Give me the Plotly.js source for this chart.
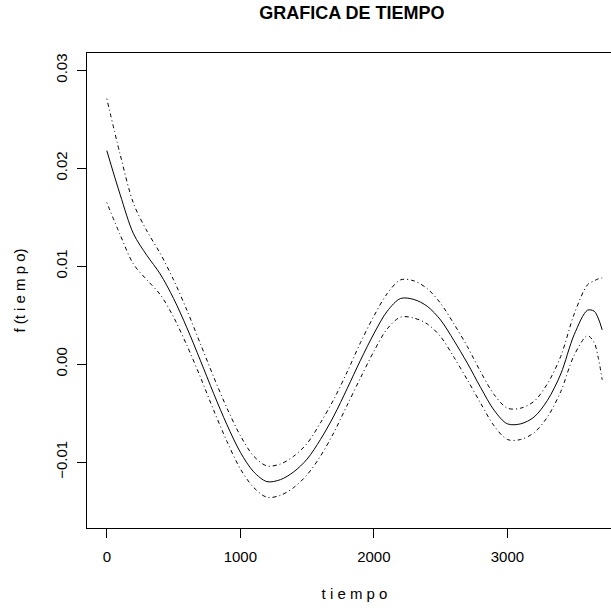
<!DOCTYPE html>
<html>
<head>
<meta charset="utf-8">
<script src="https://cdn.plot.ly/plotly-3.0.1.min.js"></script>
<style>
html,body{margin:0;padding:0;overflow:hidden;background:#fff;width:611px;height:608px;}
#chart{width:624px;height:608px;}
</style>
</head>
<body>
<div id="chart"></div>
<script>
// tiempo values
const tiempo = [0,100,200,300,400,500,600,700,800,900,1000,1100,1200,1300,1400,1500,1600,1700,1800,1900,2000,2100,2200,2300,2400,2500,2600,2700,2800,2900,3000,3100,3200,3300,3400,3500,3600,3650,3680,3710];
// fitted smooth f(tiempo)
const fit = [0.0218,0.0173,0.0133,0.0111,0.0092,0.0067,0.0037,0.0004,-0.0030,-0.0062,-0.0090,-0.0110,-0.0120,-0.0118,-0.0110,-0.0097,-0.0077,-0.0053,-0.0025,0.0004,0.0031,0.0054,0.0067,0.0066,0.0059,0.0045,0.0024,0.0001,-0.0024,-0.0047,-0.0061,-0.0061,-0.0054,-0.0037,-0.0010,0.0030,0.0055,0.0054,0.0047,0.0035];
// upper confidence band
const upper = [0.0271,0.0214,0.0164,0.0136,0.0113,0.0086,0.0055,0.0021,-0.0013,-0.0045,-0.0073,-0.0094,-0.0104,-0.0102,-0.0094,-0.0081,-0.0060,-0.0036,-0.0008,0.0022,0.0049,0.0072,0.0086,0.0085,0.0077,0.0062,0.0041,0.0018,-0.0008,-0.0031,-0.0045,-0.0045,-0.0038,-0.0020,0.0008,0.0051,0.0081,0.0085,0.0087,0.0088];
// lower confidence band
const lower = [0.0165,0.0132,0.0102,0.0086,0.0071,0.0048,0.0019,-0.0013,-0.0047,-0.0079,-0.0107,-0.0126,-0.0136,-0.0134,-0.0126,-0.0113,-0.0094,-0.0070,-0.0042,-0.0014,0.0013,0.0036,0.0048,0.0047,0.0041,0.0028,0.0007,-0.0016,-0.0040,-0.0063,-0.0077,-0.0077,-0.0070,-0.0054,-0.0028,0.0009,0.0029,0.0022,0.0007,-0.0016];
const xTicks = [0,1000,2000,3000];
const yTicks = [-0.01,0.00,0.01,0.02,0.03];
const yTickText = ['\u22120.01','0.00','0.01','0.02','0.03'];

const font = 'Liberation Sans, Arial, Helvetica, sans-serif';
const traces = [
  {x: tiempo, y: fit, mode: 'lines', line: {color: '#000', width: 1, shape: 'spline', smoothing: 0.9}, hoverinfo: 'skip'},
  {x: tiempo, y: upper, mode: 'lines', line: {color: '#000', width: 1, dash: '1px,3px,4px,3px', shape: 'spline', smoothing: 0.9}, hoverinfo: 'skip'},
  {x: tiempo, y: lower, mode: 'lines', line: {color: '#000', width: 1, dash: '1px,3px,4px,3px', shape: 'spline', smoothing: 0.9}, hoverinfo: 'skip'}
];
const layout = {
  width: 624, height: 608,
  margin: {l: 87, r: 2, t: 53, b: 80, pad: 0},
  paper_bgcolor: '#fff', plot_bgcolor: '#fff',
  showlegend: false,
  font: {family: font, color: '#000', size: 15},
  title: {text: '<b>GRAFICA DE TIEMPO</b>', x: 0.495, xref: 'paper', y: 1 - 12.5/608, yref: 'container', yanchor: 'middle',
          font: {family: font, size: 18, color: '#000'}},
  xaxis: {
    range: [-148.4, 3858.4], showgrid: false, zeroline: false,
    showline: true, mirror: true, linecolor: '#000', linewidth: 1,
    ticks: 'outside', ticklen: 9, tickwidth: 1, tickcolor: '#000',
    tickvals: xTicks, ticktext: xTicks.map(String), ticklabelstandoff: 6,
    tickfont: {family: font, size: 15, color: '#000'},
    title: {text: 't i e m p o', standoff: 24, font: {family: font, size: 15, color: '#000'}}
  },
  yaxis: {
    range: [-0.016735, 0.031765], showgrid: false, zeroline: false,
    showline: true, mirror: true, linecolor: '#000', linewidth: 1,
    ticks: 'outside', ticklen: 9, tickwidth: 1, tickcolor: '#000',
    tickvals: yTicks, ticktext: yTickText, tickangle: -90, ticklabelstandoff: 4,
    tickfont: {family: font, size: 15, color: '#000'},
    title: {text: 'f (t i e m p o)', standoff: 23, font: {family: font, size: 15, color: '#000'}}
  }
};
Plotly.newPlot('chart', traces, layout, {staticPlot: true, displayModeBar: false});
</script>
</body>
</html>
